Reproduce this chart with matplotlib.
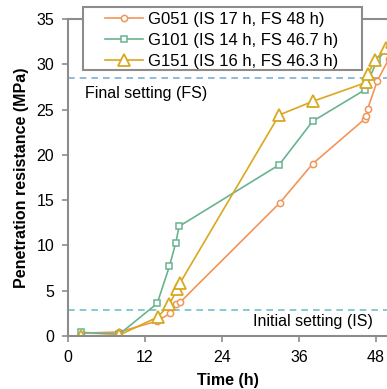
import matplotlib.pyplot as plt
from matplotlib.patches import Rectangle

plt.rcParams['font.family'] = ['Liberation Sans', 'DejaVu Sans']

# G051
t051 = [2, 8, 13.9, 15.9, 16.8, 17.5, 33.0, 38.1, 46.3, 46.5, 46.7, 48.2, 50.0]
p051 = [0.3, 0.45, 1.65, 2.5, 3.5, 3.75, 14.7, 19.0, 24.0, 24.3, 25.1, 28.2, 30.6]
# G101
t101 = [2, 8, 13.9, 15.8, 16.8, 17.3, 32.9, 38.1, 46.3, 46.5, 48.2, 50.0]
p101 = [0.4, 0.2, 3.6, 7.7, 10.3, 12.1, 18.9, 23.7, 27.2, 27.7, 30.5, 31.9]
# G151
t151 = [2, 8, 14.0, 15.8, 17.0, 17.5, 32.9, 38.1, 46.5, 46.7, 47.9, 49.5, 50.5]
p151 = [0.0, 0.1, 2.1, 3.5, 5.15, 5.9, 24.4, 25.9, 28.0, 28.9, 30.5, 31.75, 32.5]

labels = ['G051 (IS 17 h, FS 48 h)', 'G101 (IS 14 h, FS 46.7 h)', 'G151 (IS 16 h, FS 46.3 h)']
fs_level = 28.5
is_level = 2.9

W, H = 387, 389
fig = plt.figure(figsize=(W / 100, H / 100), dpi=100)
ax = fig.add_axes([68 / W, 1 - 336 / H, 1 - 68 / W, (336 - 19) / H])

ax.axhline(fs_level, color='#7BAFD4', ls=(0, (4, 3)), lw=1.2, zorder=1)
ax.axhline(is_level, color='#6EC2C8', ls=(0, (4, 3)), lw=1.2, zorder=1)
ax.text(2.6, fs_level - 0.9, 'Final setting (FS)', fontsize=11.5, va='top', ha='left')
ax.text(47.5, is_level - 0.5, 'Initial setting (IS)', fontsize=11.5, va='top', ha='right')

l1, = ax.plot(t051, p051, color='#F0965A', marker='o', ms=4.5, mfc='white', mew=1.1, lw=1.2)
l2, = ax.plot(t101, p101, color='#6AB38F', marker='s', ms=4.5, mfc='white', mew=1.1, lw=1.2)
l3, = ax.plot(t151, p151, color='#D9A81E', marker='^', ms=8, mfc='white', mew=1.3, lw=1.2)

ax.set_xlim(0, 49.7)
ax.set_ylim(0, 35)
ax.set_xticks([0, 12, 24, 36, 48])
ax.set_yticks([0, 5, 10, 15, 20, 25, 30, 35])
ax.tick_params(labelsize=11.5, length=4, width=1.2, color='#8C8C8C')
ax.tick_params(axis='y', pad=6)
ax.tick_params(axis='x', pad=6)
for s in ['left', 'bottom', 'top']:
    ax.spines[s].set_color('#8C8C8C')
    ax.spines[s].set_linewidth(1.5)
ax.spines['right'].set_visible(False)

ax.set_xlabel('Time (h)', fontsize=11.5, fontweight='bold', labelpad=6)
ax.set_ylabel('Penetration resistance (MPa)', fontsize=11.5, fontweight='bold', labelpad=5)

# legend box drawn separately
box = Rectangle((83 / W, 1 - 70 / H), (362 - 83) / W, 63 / H, transform=fig.transFigure,
                facecolor='white', edgecolor='#8C8C8C', lw=1.5, zorder=5)
fig.patches.append(box)
leg = fig.legend([l1, l2, l3], labels, loc='upper left', bbox_to_anchor=(105 / W, 1 - 12 / H),
                 fontsize=12, frameon=False, handlelength=2.3, borderaxespad=0, borderpad=0,
                 labelspacing=0.36, handletextpad=0.25)
leg.set_zorder(6)

fig.savefig('out.png', dpi=100)
